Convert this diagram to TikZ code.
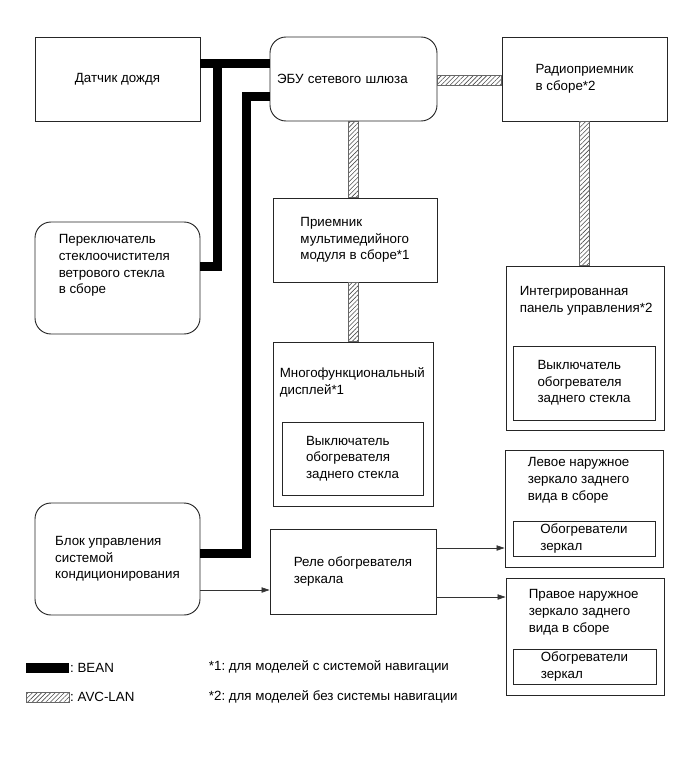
\documentclass[tikz,border=0pt]{standalone}
\usepackage{fontspec}
\setmainfont{Liberation Sans}
\frenchspacing
\usetikzlibrary{arrows.meta,calc,patterns.meta}
\tikzset{
  blk/.style={draw=black!85, line width=0.7pt, inner sep=0pt, align=left, font=\fontsize{10}{12.4}\selectfont},
  rblk/.style={blk, rounded corners=12pt},
  hdr/.style={inner sep=0pt, align=left, anchor=north west, font=\fontsize{10}{12.4}\selectfont},
  lgd/.style={inner sep=0.5pt, anchor=west, font=\fontsize{10}{12.4}\selectfont},
  bean/.style={line width=6.75pt, black},
  avc/.style={draw=black!60, line width=0.4pt, pattern={Lines[angle=45,distance=2.4pt,line width=0.45pt]}, pattern color=black!70},
  sig/.style={-{Triangle[length=6pt,width=4pt]}, line width=0.5pt, black!80},
}
\begin{document}
\begin{tikzpicture}[x=0.75pt,y=-0.75pt]
  \useasboundingbox (0,0) rectangle (691,757);
  % left column
  \node[blk, minimum width=123.75pt, minimum height=63pt] (rain) at (117.5,79) {Датчик дождя};
  \node[rblk, minimum width=123.75pt, minimum height=84pt] (wiper) at (117.5,278) {};
  \node[hdr] (wiper-t) at ([shift={(24,13)}]wiper.north west)
    {Переключатель\\стеклоочистителя\\ветрового стекла\\в сборе};
  \node[rblk, minimum width=123.75pt, minimum height=84pt] (ac) at (117.5,559)
    {Блок управления\\системой\\кондиционирования};
  % middle column
  \node[rblk, text width=114.75pt, inner xsep=5.25pt, minimum height=63pt] (ecu) at (353.5,79) {ЭБУ сетевого шлюза};
  \node[blk, minimum width=123pt, minimum height=63pt] (mm) at (355,240)
    {Приемник\\мультимедийного\\модуля в сборе*1};
  \node[blk, minimum width=120pt, minimum height=123pt] (mfd) at (353,424) {};
  \node[hdr] (mfd-t) at ([shift={(7,26)}]mfd.north west) {Многофункциональный\\дисплей*1};
  \node[blk, minimum width=105.75pt, minimum height=54.75pt] (mfd-sw) at (352.5,458.5)
    {Выключатель\\обогревателя\\заднего стекла};
  \node[blk, minimum width=124.5pt, minimum height=63.75pt] (relay) at (353,571.5)
    {Реле обогревателя\\зеркала};
  % right column
  \node[blk, minimum width=123.75pt, minimum height=63pt] (radio) at (584.5,79)
    {Радиоприемник\\в сборе*2};
  \node[blk, minimum width=118.5pt, minimum height=123pt] (panel) at (585,348) {};
  \node[hdr] (panel-t) at ([shift={(14,21)}]panel.north west) {Интегрированная\\панель управления*2};
  \node[blk, minimum width=106.5pt, minimum height=55.5pt] (panel-sw) at (584,383)
    {Выключатель\\обогревателя\\заднего стекла};
  \node[blk, minimum width=118.5pt, minimum height=87.75pt] (lmir) at (584,508.5) {};
  \node[hdr] (lmir-t) at ([shift={(23,8)}]lmir.north west) {Левое наружное\\зеркало заднего\\вида в сборе};
  \node[blk, minimum width=106.5pt, minimum height=26.25pt] (lmir-h) at (584,538.5) {Обогреватели\\зеркал};
  \node[blk, minimum width=118.5pt, minimum height=87.75pt] (rmir) at (585,636.5) {};
  \node[hdr] (rmir-t) at ([shift={(23,12)}]rmir.north west) {Правое наружное\\зеркало заднего\\вида в сборе};
  \node[blk, minimum width=107.25pt, minimum height=26.25pt] (rmir-h) at (584.5,666.5) {Обогреватели\\зеркал};
  % BEAN
  \coordinate (j1) at (217,63);
  \coordinate (j2) at (246,96);
  \draw[bean] (rain.east |- j1) -- (ecu.west |- j1);
  \draw[bean] (j1) |- ($(wiper.east)+(0,-12)$);
  \draw[bean] (ecu.west |- j2) -- (j2) |- ($(ac.east)+(0,-6)$);
  % AVC-LAN
  \draw[avc] ($(ecu.east)+(0,-4)$) rectangle ($(radio.west)+(0,6)$);
  \draw[avc] ($(ecu.south)+(-5,0)$) rectangle ($(ecu.south |- mm.north)+(5,0)$);
  \draw[avc] ($(ecu.south |- mm.south)+(-5,0)$) rectangle ($(ecu.south |- mfd.north)+(5,0)$);
  \draw[avc] ($(radio.south)+(-5,0)$) rectangle ($(radio.south |- panel.north)+(5,0)$);
  % signals
  \coordinate (s1) at ($(ac.east)+(0,31)$);
  \coordinate (s2) at ($(relay.east)+(0,-23.5)$);
  \coordinate (s3) at ($(relay.east)+(0,25.5)$);
  \draw[sig] (s1) -- (s1 -| relay.west);
  \draw[sig] (s2) -- (s2 -| lmir.west);
  \draw[sig] (s3) -- (s3 -| rmir.west);
  % legend
  \node[fill=black, inner sep=0pt, minimum width=32.25pt, minimum height=7.5pt] (k-bean) at (47.5,668) {};
  \node[avc, inner sep=0pt, minimum width=32.25pt, minimum height=7.5pt] (k-avc) at (47.5,697) {};
  \node[lgd] (k-bean-t) at (k-bean.east) {: BEAN};
  \node[lgd] (k-avc-t) at (k-avc.east) {: AVC-LAN};
  \node[lgd] (note1) at (208,667) {*1: для моделей с системой навигации};
  \node[lgd] (note2) at (208,697) {*2: для моделей без системы навигации};
\end{tikzpicture}
\end{document}
